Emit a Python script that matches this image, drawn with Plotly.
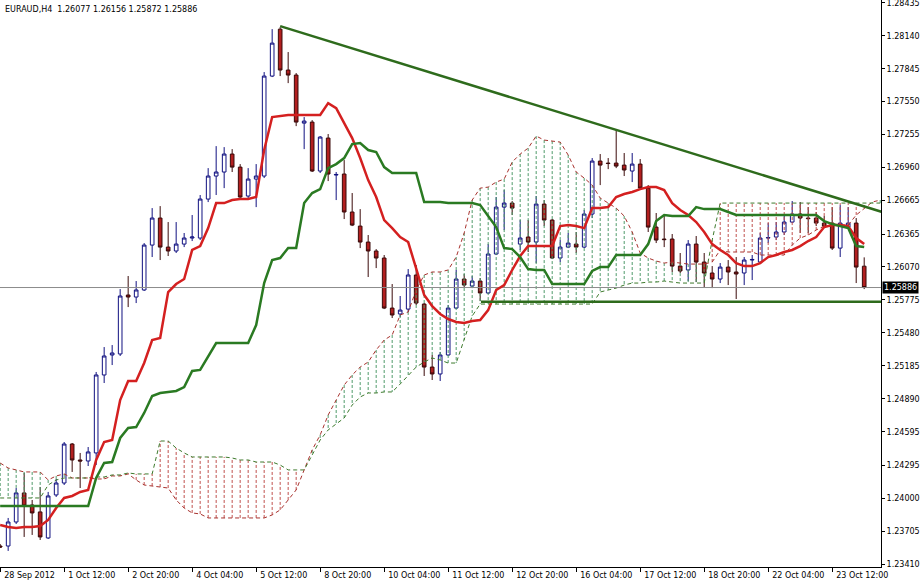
import numpy as np
import plotly.graph_objects as go

# ---------------- data (prices in points, 1 point = 0.00001) ----------------
bar_index = list(range(109))
open_pts = [123572,123572,123787,124047,123939,123877,123644,124029,124136,124485,
            124342,124333,124405,125103,125282,125291,125819,125801,125864,126266,
            126508,126248,126213,126275,126329,126329,126678,126884,126920,127081,
            126964,126705,126857,126884,127779,128199,127833,127788,127358,127367,
            126929,127224,126893,126902,126562,126436,126293,126213,126150,125702,
            125649,125693,125998,125738,125174,125112,125282,125702,125962,125899,
            125944,125837,126186,126606,126642,126275,126338,126293,126633,126490,
            126150,126248,126275,126248,126544,127018,127000,127000,126982,126929,
            126991,126776,126427,126320,126320,126078,126043,126275,126114,126016,
            125962,126069,126025,126016,126132,126114,126329,126338,126383,126472,
            126544,126508,126508,126463,126463,126239,126427,126463,126077]
high_pts = [123590,123823,124091,124226,123984,124100,124056,124172,124503,124494,
            124405,124458,125130,125353,125371,125872,125989,125944,126284,126597,
            126615,126472,126472,126374,126535,126714,126955,127152,127143,127125,
            126991,126955,126991,127815,128199,128217,127994,127806,127412,127385,
            127242,127260,126920,127027,126732,126588,126356,126230,126177,125917,
            125810,126051,126087,125747,125282,125309,125729,126043,126007,125989,
            125971,126275,126696,126759,126660,126490,126490,126705,126669,126499,
            126311,126374,126383,126580,127045,127081,127045,127296,127090,127090,
            127036,126803,126553,126535,126365,126195,126311,126347,126195,126078,
            126105,126132,126159,126159,126177,126374,126463,126472,126535,126660,
            126651,126606,126562,126526,126606,126624,126606,126508,126156]
low_pts = [123554,123528,123769,123653,123671,123626,123635,124011,124118,124235,
           124091,124288,124297,125031,125192,125273,125711,125747,125855,126159,
           126132,126168,126195,126248,126302,126311,126651,126714,126776,126920,
           126687,126687,126606,126866,127770,127779,127716,127331,127125,126920,
           126911,126839,126669,126499,126436,126239,125980,126060,125693,125613,
           125622,125667,125729,125094,125058,125049,125273,125693,125890,125881,
           125765,125828,126177,126401,126535,126222,126204,126105,126436,126141,
           126114,126239,126195,126239,126508,126803,126946,126955,126884,126830,
           126759,126383,126284,126248,126025,126016,125944,125935,125890,125881,
           125926,125908,125783,125908,125953,126105,126284,126311,126356,126463,
           126374,126374,126436,126418,126222,126159,126418,125926,125872]
close_pts = [123563,123787,124047,123930,123868,123653,124020,124136,124485,124342,
             124333,124414,125103,125273,125300,125810,125801,125864,126266,126508,
             126248,126213,126275,126329,126338,126678,126884,126920,127081,126964,
             126696,126857,126884,127779,128074,127833,127788,127367,127376,126929,
             127233,126902,126898,126562,126445,126293,126213,126150,125702,125640,
             125684,125998,125747,125174,125112,125282,125702,125962,125908,125944,
             125837,126186,126606,126642,126597,126329,126293,126633,126490,126150,
             126248,126284,126248,126544,127018,126982,126996,126973,126938,126991,
             126776,126427,126311,126315,126078,126034,126275,126114,126016,125962,
             126069,126025,126007,126132,126137,126329,126333,126383,126472,126544,
             126508,126503,126463,126436,126239,126463,126463,126069,125886]

tenkan_pts = [123760,123742,123733,123742,123742,123751,123805,123912,124002,124020,
              124056,124074,124342,124503,124521,124879,125049,125049,125210,125416,
              125434,125846,125917,125962,126222,126257,126418,126642,126642,126669,
              126678,126678,126696,127117,127412,127421,127430,127430,127430,127430,
              127430,127537,127492,127358,127224,127045,126848,126696,126490,126418,
              126338,126293,126060,125819,125720,125649,125604,125577,125568,125586,
              125595,125684,125864,125908,126043,126168,126257,126257,126257,126257,
              126436,126445,126436,126418,126597,126597,126606,126696,126723,126741,
              126767,126785,126785,126759,126642,126580,126535,126472,126383,126275,
              126222,126177,126105,126078,126078,126105,126159,126177,126204,126222,
              126257,126302,126338,126427,126445,126445,126436,126329,126275]
kijun_pts = [123930]*12 + [124181,124315,124324,124539,124628,124637,124763,124915,
             124942,124951,124960,124995,125139,125148,125264,125389,125389,125389,
             125389,125389,125550,125926,126132,126150,126239,126239,126642,126732,
             126767,126955,126991,127045,127170,127179,127117,127099,126964,126911,
             126911,126911,126911,126651,126651,126651,126642,126642,126642,126642,
             126624,126526,126427,126239,126230,126159,126051,126043,126043,125917,
             125917,125917,125917,125917,126034,126069,126069,126177,126177,126177,
             126177,126275,126481,126535,126526,126526,126526,126606,126588,126588,
             126588,126562,126535] + [126535]*10 + [126481,126454,126436,126418,126257,126248]

cloud_index = list(range(111))
span_a_pts = [124315,124270,124253,124235,124235,124235,124163,124199,124217,124181,
              124181,124181,124172,124172,124199,124199,124217,124163,124118,124109,
              124100,124091,123984,123912,123868,123859,123823,123823,123823,123823,
              123823,123823,123823,123823,123850,123895,123984,124074,124253,124432,
              124566,124745,124879,125013,125103,125174,125219,125327,125416,125461,
              125640,125667,125864,125998,126025,126025,126043,126159,126374,126669,
              126776,126785,126830,126857,127009,127081,127134,127242,127206,127197,
              127188,127072,126920,126866,126803,126687,126642,126597,126526,126383,
              126195,126150,126123,126105,126114,126105,126096,126096,126096,126114,
              126222,126204,126204,126204,126204,126177,126177,126177,126177,126266,
              126329,126356,126401,126436,126445,126445,126445,126535,126597,126651,126669]
span_b_pts = [124002]*6 + [124118,124163,124181,124181,124181,124181,124190,124190,
              124208,124208,124226,124217,124217,124217,124512,124512,124449,124405,
              124369,124369,124369,124369,124369,124360,124342,124342,124324,124324,
              124324,124297,124253,124253,124253,124387,124521,124611,124664,124718,
              124834,124906,124942,124942,124951,124951,125022,125094,125174,125219,
              125255,125237,125210,125210,125416,125631] + [125738]*15 + \
             [125846,125864,125881,125908,125926,125926,125935,125935,125944,125935,
              125926,125926,125926,125926,126311] + [126642]*21

# drawn objects (bar index, price points)
trend_x = [35, 110.3]
trend_pts = [128226, 126561]
support_x = [60.1, 110.3]
support_pts = [125759, 125759]
bid_price = 1.25886

x_tick_bars = [0, 8, 16, 24, 32, 40, 48, 56, 64, 72, 80, 88, 96, 104]
x_tick_text = ["28 Sep 2012", "1 Oct 12:00", "2 Oct 20:00", "4 Oct 04:00", "5 Oct 12:00",
               "8 Oct 20:00", "10 Oct 04:00", "11 Oct 12:00", "12 Oct 20:00",
               "16 Oct 04:00", "17 Oct 12:00", "18 Oct 20:00", "22 Oct 04:00", "23 Oct 12:00"]
y_tick_text = ["1.28435", "1.28140", "1.27845", "1.27550", "1.27255", "1.26960", "1.26665",
               "1.26365", "1.26070", "1.25775", "1.25480", "1.25185", "1.24890", "1.24595",
               "1.24295", "1.24000", "1.23705", "1.23410"]
title_text = "EURAUD,H4  1.26077 1.26156 1.25872 1.25886"

# ---------------- figure ----------------
S = 1e5
o = np.array(open_pts) / S
h = np.array(high_pts) / S
l = np.array(low_pts) / S
c = np.array(close_pts) / S
tenkan = np.array(tenkan_pts) / S
kijun = np.array(kijun_pts) / S
span_a = np.array(span_a_pts) / S
span_b = np.array(span_b_pts) / S

FONT = "DejaVu Sans"
FS = 8
fig = go.Figure()

# cloud hatching
gx, gy, rx, ry = [], [], [], []
for i, a, b in zip(cloud_index, span_a, span_b):
    if a >= b:
        gx += [i, i, None]; gy += [a, b, None]
    else:
        rx += [i, i, None]; ry += [a, b, None]
fig.add_trace(go.Scatter(x=gx, y=gy, mode="lines", line=dict(color="#4f9a6a", width=1, dash="3px,2px"),
                         hoverinfo="skip", showlegend=False))
fig.add_trace(go.Scatter(x=rx, y=ry, mode="lines", line=dict(color="#c0504d", width=1, dash="3px,2px"),
                         hoverinfo="skip", showlegend=False))
fig.add_trace(go.Scatter(x=cloud_index, y=span_a, mode="lines",
                         line=dict(color="#a8322e", width=1, dash="4px,3px"), showlegend=False))
fig.add_trace(go.Scatter(x=cloud_index, y=span_b, mode="lines",
                         line=dict(color="#3d7a2c", width=1, dash="4px,3px"), showlegend=False))

# bid line
fig.add_trace(go.Scatter(x=[-1, 111], y=[bid_price, bid_price], mode="lines",
                         line=dict(color="#8c8c8c", width=1), showlegend=False))

fig.add_trace(go.Candlestick(
    x=bar_index, open=o, high=h, low=l, close=c,
    increasing=dict(line=dict(color="#101080", width=1), fillcolor="#ffffff"),
    decreasing=dict(line=dict(color="#3a0a0a", width=1), fillcolor="#b21f1f"),
    whiskerwidth=0, showlegend=False))

fig.add_trace(go.Scatter(x=bar_index, y=tenkan, mode="lines",
                         line=dict(color="#d42020", width=2.5), showlegend=False))
fig.add_trace(go.Scatter(x=bar_index, y=kijun, mode="lines",
                         line=dict(color="#2a7a22", width=2.5), showlegend=False))

fig.add_trace(go.Scatter(x=trend_x, y=np.array(trend_pts) / S, mode="lines",
                         line=dict(color="#2e6b1c", width=2.5), showlegend=False))
fig.add_trace(go.Scatter(x=support_x, y=np.array(support_pts) / S, mode="lines",
                         line=dict(color="#2e6b1c", width=2.5), showlegend=False))

fig.update_layout(
    width=922, height=584, autosize=False,
    margin=dict(l=0, r=41, t=0, b=17),
    paper_bgcolor="white", plot_bgcolor="white",
    boxgap=0.35,
    font=dict(family=FONT, size=FS, color="black"),
    xaxis=dict(range=[-0.02, 110.1], showgrid=False, zeroline=False, rangeslider=dict(visible=False),
               showline=True, linecolor="black", linewidth=1, automargin=False,
               ticks="outside", ticklen=4, tickcolor="black", tickangle=0,
               tickvals=x_tick_bars, ticktext=x_tick_text, ticklabelposition="outside right",
               ticklabelshift=3, ticklabeloverflow="allow",
               tickfont=dict(family=FONT, size=FS, color="black")),
    yaxis=dict(range=[1.23384, 1.28460], side="right", showgrid=False, zeroline=False,
               showline=True, linecolor="black", linewidth=1, automargin=False,
               ticks="outside", ticklen=3, tickcolor="black",
               tickvals=[float(t) for t in y_tick_text], ticktext=y_tick_text,
               ticklabeloverflow="allow",
               tickfont=dict(family=FONT, size=FS, color="black")),
    annotations=[
        dict(text=title_text, xref="paper", yref="paper", x=0.003, y=1.0, xanchor="left", yanchor="top",
             yshift=-3, showarrow=False, font=dict(family=FONT, size=FS, color="black")),
        dict(text="1.25886", xref="paper", yref="y", x=1.0, y=bid_price, xanchor="left", yanchor="middle",
             xshift=1, showarrow=False, bgcolor="black", borderpad=1,
             font=dict(family=FONT, size=FS, color="white")),
    ],
)

fig.write_html("out.html", config={"displayModeBar": False},
               post_script="document.body.style.margin='0';document.body.style.overflow='hidden';")
